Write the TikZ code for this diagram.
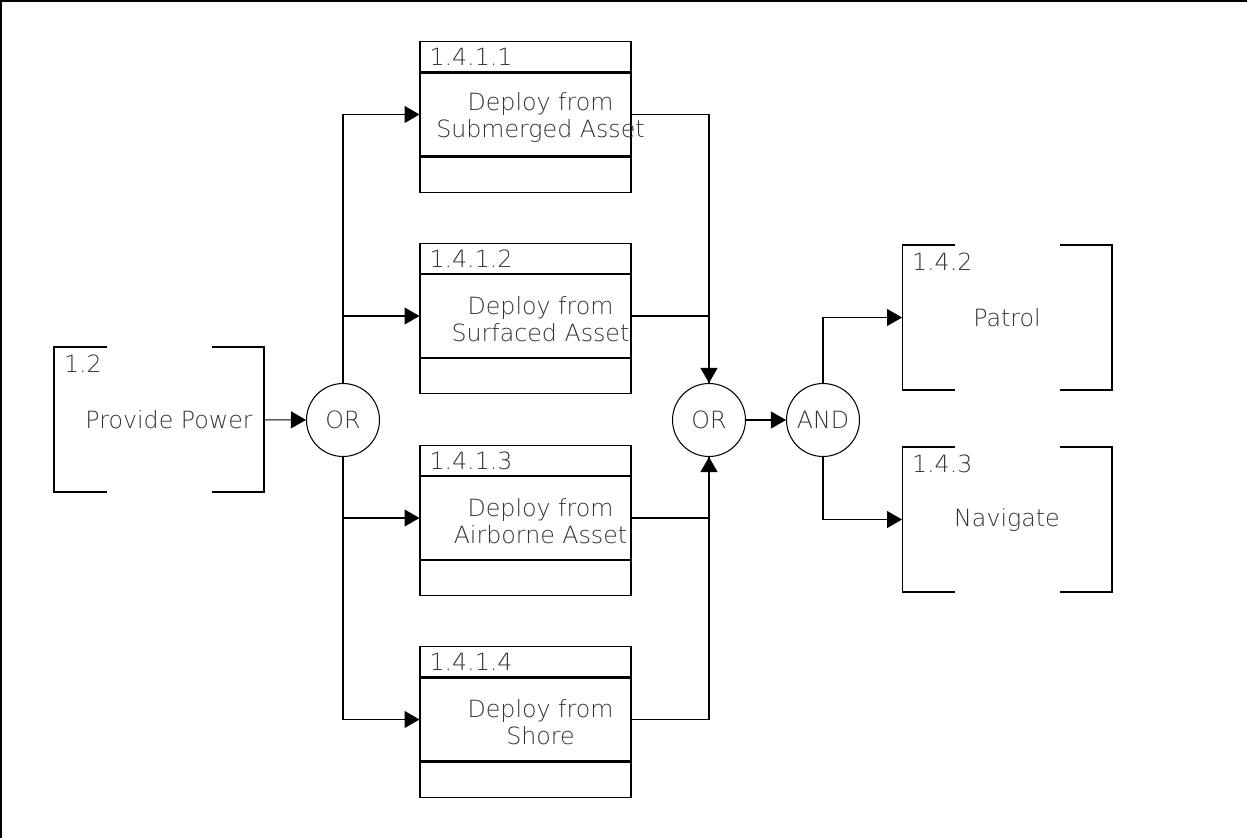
\documentclass[tikz,border=0pt]{standalone}
\usepackage{fontspec}
\setmainfont{DejaVu Sans ExtraLight}
\usetikzlibrary{arrows.meta,positioning,calc}

\begin{document}
\begin{tikzpicture}[x=0.02cm, y=-0.02cm, line width=0.6pt,
  every node/.style={font=\fontsize{13.5}{15.5}\selectfont, text=black!80},
  fmain/.style={draw, minimum width=4.22cm, minimum height=1.66cm, inner sep=0},
  fhead/.style={draw, text width=3.84cm, inner xsep=0.19cm, inner ysep=0, minimum height=0.6cm, align=left},
  ffoot/.style={draw, minimum width=4.22cm, minimum height=0.7cm, inner sep=0},
  ftext/.style={xshift=0.3cm, yshift=-0.06cm, align=center},
  bbox/.style={minimum width=4.2cm, minimum height=2.9cm, outer sep=0},
  bnum/.style={anchor=north west, inner xsep=0.19cm, inner ysep=0.14cm},
  gate/.style={draw, circle, minimum size=1.46cm, inner sep=0},
  arr/.style={-{Triangle[length=0.3cm, width=0.34cm]}}]
\useasboundingbox (0,0) rectangle (1247,838);
\draw[line width=1pt] (1,838) -- (1,1) -- (1247,1);
% Bracket boxes
\node[bbox, label={[bnum]north west:1.2}, label={[xshift=0.2cm]center:Provide Power}] (pp) at (159,419.5) {};
\node[bbox, label={[bnum]north west:1.4.2}] (pat) at (1007,317.5) {Patrol};
\node[bbox, label={[bnum]north west:1.4.3}] (nav) at (1007,519.5) {Navigate};
\foreach \n in {pp,pat,nav} {
  \draw ([xshift=1.06cm]\n.north west) -| (\n.south west) -- ++(1.06cm,0);
  \draw ([xshift=-1.04cm]\n.north east) -| (\n.south east) -- ++(-1.04cm,0);
}
% Deploy boxes
\node[fmain, label={[ftext]center:Deploy from\\Submerged Asset}] (f1) at (525.5,114.5) {};
\node[fmain, label={[ftext]center:Deploy from\\Surfaced Asset}] (f2) at (525.5,316) {};
\node[fmain, label={[ftext]center:Deploy from\\Airborne Asset}] (f3) at (525.5,518) {};
\node[fmain, label={[ftext]center:Deploy from\\Shore}] (f4) at (525.5,719.5) {};
\foreach \f/\t in {f1/1.4.1.1, f2/1.4.1.2, f3/1.4.1.3, f4/1.4.1.4} {
  \node[fhead, anchor=south] (\f h) at (\f.north) {\t};
  \node[ffoot, anchor=north] (\f b) at (\f.south) {};
}
% Gates
\node[gate] (gor1) at (343,420) {OR};
\node[gate] (gor2) at (709,420) {OR};
\node[gate] (gand) at (823,420) {AND};
% Flow
\draw[arr] (pp) -- (gor1);
\draw[arr] (gor1.north) |- (f1.west);
\draw[arr] (gor1.north) |- (f2.west);
\draw[arr] (gor1.south) |- (f3.west);
\draw[arr] (gor1.south) |- (f4.west);
\draw[arr] (f1.east) -| (gor2.north);
\draw (f2.east) -| (gor2.north);
\draw[arr] (f3.east) -| (gor2.south);
\draw (f4.east) -| (gor2.south);
\draw[arr] (gor2) -- (gand);
\draw[arr] (gand.north) |- (pat.west);
\draw[arr] (gand.south) |- (nav.west);
\end{tikzpicture}
\end{document}
